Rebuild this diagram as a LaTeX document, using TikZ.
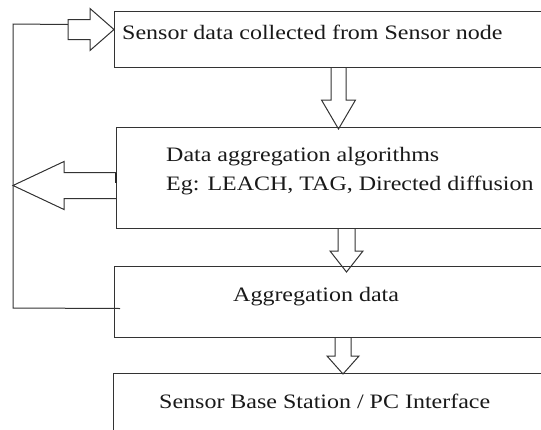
\documentclass[tikz,border=0pt]{standalone}
\usepackage{fontspec}
\setmainfont{Liberation Serif}[FakeStretch=1.17]
\tikzset{
  box/.style={draw=black!80, line width=1pt, inner sep=0pt, anchor=north west, minimum width=460pt},
  txt/.style={anchor=base west, inner sep=0pt, font=\fontsize{20.5}{24}\selectfont, text=black!90},
  blk/.style={draw=black!80, line width=1pt, line join=miter},
}
\begin{document}
\begin{tikzpicture}[x=1pt,y=-1pt]
  \useasboundingbox (0,0) rectangle (541,429);
  \clip (0,0) rectangle (541,429);
  %% boxes
  \node[box, minimum height=56pt] (collect) at (114,11) {};
  \node[box, minimum height=101pt] (algo) at (116,127) {};
  \node[box, minimum height=71pt] (aggr) at (114,266) {};
  \node[box, minimum height=80pt] (base) at (113,373) {};
  %% texts
  \node[txt] (collecttxt) at (122,39) {Sensor data collected from Sensor node};
  \node[txt] (algotxt) at (166,161) {Data aggregation algorithms};
  \node[txt] (egtxt) at (166,190) {Eg: LEACH, TAG, Directed diffusion};
  \node[txt] (aggrtxt) at (233,301) {Aggregation data};
  \node[txt] (basetxt) at (159,408) {Sensor Base Station / PC Interface};
  %% down arrows
  \coordinate (d1) at (338.5,0);
  \coordinate (d2) at (346.5,0);
  \coordinate (d3) at (343,0);
  \draw[blk] (d1 |- collect.south) ++(-7.5,0) -- ++(0,32) -- ++(-9.5,0) -- ++(17,29) -- ++(17,-29) -- ++(-9.5,0) -- ++(0,-32);
  \draw[blk] (d2 |- algo.south) ++(-8.5,0) -- ++(0,22) -- ++(-8,0) -- ++(16.5,21) -- ++(16.5,-21) -- ++(-8,0) -- ++(0,-22);
  \draw[blk] (d3 |- aggr.south) ++(-8,0) -- ++(0,18) -- ++(-8,0) -- ++(16,18) -- ++(16,-18) -- ++(-8,0) -- ++(0,-18);
  %% feedback loop
  \coordinate (loopbot) at (13,308);
  \coordinate (looptop) at (13,24);
  \draw[blk] ([shift={(6,6.5)}]aggr.west) -- (loopbot) -- (looptop) -- ([shift={(-46,-15)}]collect.west);
  %% arrow out of algorithms box
  \draw[blk] ([yshift=5.5pt]algo.west) -- ++(-52,0) -- ++(0,-11) -- ++(-51,24) -- ++(51,24) -- ++(0,-11) -- ++(52,0);
  \draw[line width=2.5pt, black!85] ([yshift=5.5pt]algo.west) -- ++(0,10);
  %% arrow into collect box
  \draw[blk] ([yshift=10pt]collect.west) -- ++(-24,-21) -- ++(0,11) -- ++(-22,0) -- ++(0,20) -- ++(22,0) -- ++(0,11) -- cycle;
\end{tikzpicture}
\end{document}
